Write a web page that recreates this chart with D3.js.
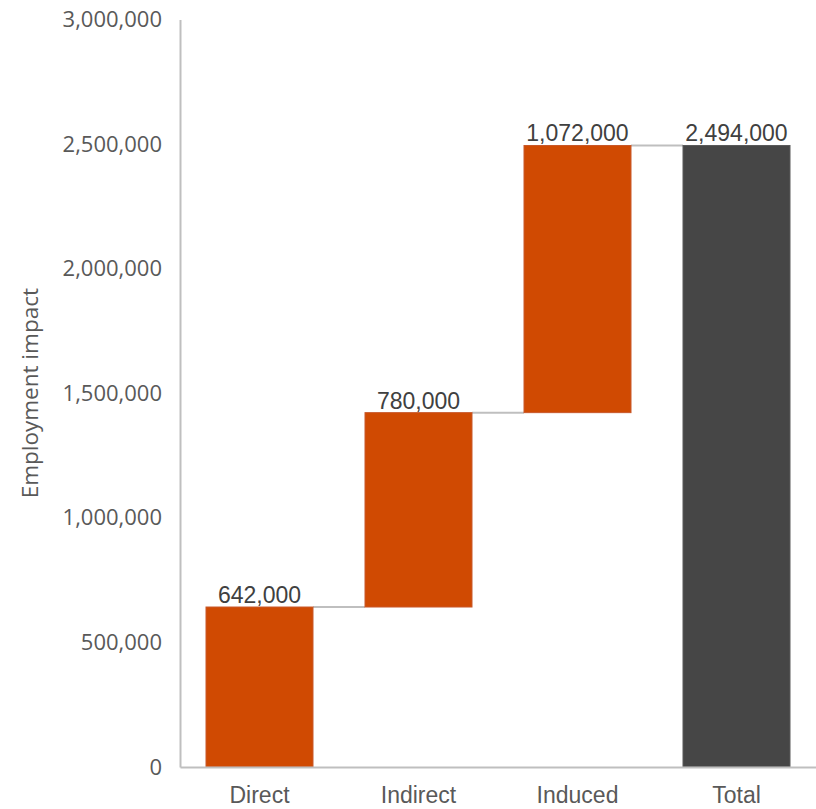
<!DOCTYPE html>
<html>
<head>
<meta charset="utf-8">
<script src="https://cdn.jsdelivr.net/npm/d3@7"></script>
<style>
  html, body { margin: 0; padding: 0; background: #fff; }
  svg { display: block; }
</style>
</head>
<body>
<svg id="chart" width="816" height="809"></svg>
<script>
const categories = ["Direct", "Indirect", "Induced", "Total"];
const values = [642000, 780000, 1072000, 2494000];
const isTotal = [false, false, false, true];
const yTicks = [0, 500000, 1000000, 1500000, 2000000, 2500000, 3000000];
const yTitle = "Employment impact";

(function () {
const svg = d3.select("#chart");
const mLeft = 180, mRight = 816, mTop = 19.4, mBottom = 767;

const x = d3.scaleBand().domain(categories).range([mLeft, mRight]).paddingInner(0.327).paddingOuter(0.1635);
const y = d3.scaleLinear().domain([0, 3000000]).range([mBottom, mTop]);

let run = 0;
const segs = categories.map((c, i) => {
  let s, e;
  if (isTotal[i]) { s = 0; e = values[i]; run = values[i]; }
  else { s = run; e = run + values[i]; run = e; }
  return { c, s, e, v: values[i], total: isTotal[i] };
});

const conn = svg.append("g");
for (let i = 0; i < segs.length - 1; i++) {
  const yy = y(segs[i].e);
  conn.append("line")
    .attr("x1", x(segs[i].c) + x.bandwidth())
    .attr("x2", x(segs[i + 1].c))
    .attr("y1", yy).attr("y2", yy)
    .attr("stroke", "#bfbfbf").attr("stroke-width", 2);
}

svg.append("g").selectAll("rect").data(segs).join("rect")
  .attr("x", d => x(d.c))
  .attr("width", x.bandwidth())
  .attr("y", d => y(d.e))
  .attr("height", d => y(d.s) - y(d.e))
  .attr("fill", d => d.total ? "#464646" : "#d04a02")
  .attr("stroke", d => d.total ? "#5a5a5a" : "#c8582a")
  .attr("stroke-width", 1);

svg.append("g").selectAll("text").data(segs).join("text")
  .attr("x", d => x(d.c) + x.bandwidth() / 2)
  .attr("y", d => y(d.e) - 4)
  .attr("text-anchor", "middle")
  .attr("font-family", "Liberation Sans, Arial, sans-serif")
  .attr("font-size", 23)
  .attr("fill", "#404040")
  .text(d => d3.format(",")(d.v));

const yAxis = svg.append("g")
  .attr("transform", `translate(${mLeft},0)`)
  .call(d3.axisLeft(y).tickValues(yTicks).tickFormat(d3.format(",")).tickSize(0).tickPadding(18));
yAxis.select(".domain").attr("stroke", "#bfbfbf").attr("stroke-width", 2);
yAxis.selectAll("text")
  .attr("font-family", "Open Sans, Noto Sans, sans-serif")
  .attr("font-size", 22)
  .attr("fill", "#595959");

const xAxis = svg.append("g")
  .attr("transform", `translate(0,${mBottom})`)
  .call(d3.axisBottom(x).tickSize(0).tickPadding(20));
xAxis.select(".domain").attr("stroke", "#bfbfbf").attr("stroke-width", 2);
xAxis.selectAll("text")
  .attr("font-family", "Liberation Sans, Arial, sans-serif")
  .attr("font-size", 23)
  .attr("fill", "#595959");

svg.append("text")
  .attr("transform", `translate(38,${(mTop + mBottom) / 2}) rotate(-90)`)
  .attr("text-anchor", "middle")
  .attr("font-family", "Open Sans, Noto Sans, sans-serif")
  .attr("font-size", 22.5)
  .attr("fill", "#595959")
  .text(yTitle);
})();
</script>
</body>
</html>
